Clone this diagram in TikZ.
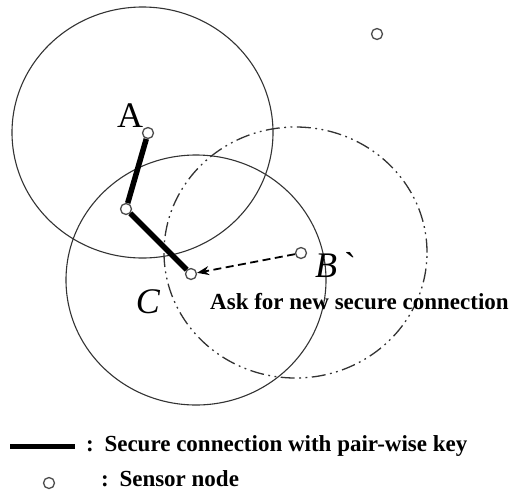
\documentclass[tikz,border=0pt]{standalone}
\usepackage{fontspec}
\setmainfont{Liberation Serif}
\usetikzlibrary{arrows.meta,positioning}

\begin{document}
\begin{tikzpicture}[x=1pt,y=-1pt,
    sensor/.style={circle,draw=black!70,fill=white,line width=1.3pt,inner sep=0pt,minimum size=11pt},
    radiorange/.style={draw=black!80,line width=1.1pt},
    securelink/.style={line width=5.5pt},
    lbl/.style={font=\fontsize{36}{40}\selectfont,inner sep=0pt,anchor=base},
    txt/.style={font=\fontsize{23}{27}\selectfont\bfseries,inner sep=0pt,anchor=base west}]
        \useasboundingbox (0,0) rectangle (510,491);
        % Ranges
        \draw[radiorange] (142.5,132.5) ellipse [x radius=130.5pt, y radius=125.5pt];
        \draw[radiorange] (196,280) ellipse [x radius=130pt, y radius=125pt];
        \draw[radiorange,line width=1.3pt,dash pattern=on 14pt off 4.5pt on 1.8pt off 4.5pt on 1.8pt off 4.5pt] (295.5,252.5) ellipse [x radius=131.5pt, y radius=125.5pt];
        % Sensor nodes
        \node[sensor] (A) at (148,133) {};
        \node[sensor] (M) at (126,209) {};
        \node[sensor] (C) at (191,274) {};
        \node[sensor] (B) at (301,253) {};
        \node[sensor] (X) at (377,34) {};
        % Links
        \draw[securelink] (A) -- (M) -- (C);
        \draw[-{Stealth[length=12pt,width=9pt]},line width=1.8pt,dash pattern=on 8pt off 4.5pt] (B) -- (C);
        % Labels
        \node[lbl] (labA) at (130,127) {A};
        \node[lbl] (labC) at (148,313) {\itshape C};
        \node[lbl,anchor=base west] (labB) at (315,277) {\itshape B\hspace{7pt}\upshape\textasciigrave};
        \node[txt] (ask) at (210,309) {Ask for new secure connection};
        % Legend
        \coordinate (lgL) at (10,446);
        \coordinate (lgR) at (75,446);
        \draw[line width=5pt] (lgL) -- (lgR);
        \node[txt] (lgSecure) at (86,451) {:\hspace{3pt} Secure connection with pair-wise key};
        \node[sensor] (lgNode) at (49,483) {};
        \node[txt] (lgSensor) at (101,486) {:\hspace{3pt} Sensor node};
      \end{tikzpicture}
\end{document}
